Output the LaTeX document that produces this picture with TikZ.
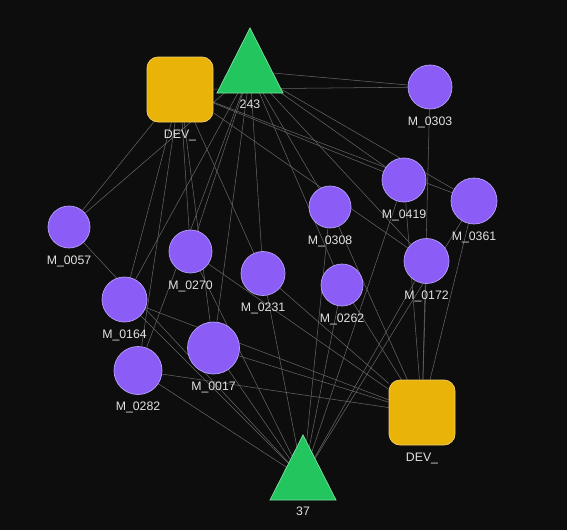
\documentclass[tikz,border=0pt]{standalone}
\usepackage{fontspec}
\setmainfont{Liberation Sans}
\usetikzlibrary{positioning,backgrounds}

\definecolor{bgdark}{HTML}{0D0D0D}
\definecolor{mpurple}{HTML}{8B5CF6}
\definecolor{mborder}{HTML}{B7A2F9}
\definecolor{devgold}{HTML}{EAB308}
\definecolor{devborder}{HTML}{F2CF6A}
\definecolor{tgreen}{HTML}{22C55E}
\definecolor{tborder}{HTML}{7FE0A2}
\definecolor{edgegray}{HTML}{666666}
\definecolor{lblgray}{HTML}{E2E2E2}

\tikzset{
  mnode/.style={circle,fill=mpurple,draw=mborder,line width=0.6pt,inner sep=0pt,minimum size=#1*0.03cm},
  mnode/.default=44,
  devbox/.style={rectangle,rounded corners=0.33cm,fill=devgold,draw=devborder,line width=0.6pt,
    minimum width=1.98cm,minimum height=1.95cm,inner sep=0pt},
  trifill/.style={fill=tgreen,draw=tborder,line width=0.6pt},
  lbl/.style={text=lblgray,font=\fontsize{10.5}{12}\selectfont,inner sep=0pt},
  edge/.style={draw=edgegray,line width=0.45pt}
}

% triangle marker: name, apex x, apex y, label
\newcommand{\trinode}[4]{%
  \filldraw[trifill] (#2,#3) -- ++(33,65) -- ++(-66,0) -- cycle;
  \coordinate (#1) at (#2,#3+43);
  \node[lbl] (#1-l) at (#2,#3+76) {#4};}

\begin{document}
\begin{tikzpicture}[x=0.03cm,y=-0.03cm]
\useasboundingbox (0,0) rectangle (567,530);

% device boxes
\node[devbox] (dev1) at (180,89.5) {};
\node[lbl,below=6pt of dev1] (dev1-l) {DEV\_};
\node[devbox] (dev2) at (422,412.5) {};
\node[lbl,below=6pt of dev2] (dev2-l) {DEV\_};

% triangles
\trinode{t243}{250}{28}{243}
\trinode{t37}{303}{435}{37}

% M nodes
\node[mnode] (m0303) at (430,87) {};
\node[mnode] (m0419) at (404,180) {};
\node[mnode=46] (m0361) at (474,201) {};
\node[mnode=42] (m0308) at (330,207) {};
\node[mnode=42] (m0057) at (69,227) {};
\node[mnode=43] (m0270) at (190.5,251.5) {};
\node[mnode] (m0231) at (263,273.5) {};
\node[mnode=42] (m0262) at (342,285) {};
\node[mnode=45] (m0172) at (426.5,261) {};
\node[mnode=45] (m0164) at (124.5,299.5) {};
\node[mnode=52] (m0017) at (213.5,348) {};
\node[mnode=48] (m0282) at (138,370.5) {};

\foreach \n/\t in {m0303/M\_0303,m0419/M\_0419,m0361/M\_0361,m0308/M\_0308,
  m0057/M\_0057,m0270/M\_0270,m0231/M\_0231,m0262/M\_0262,m0172/M\_0172,
  m0164/M\_0164,m0017/M\_0017,m0282/M\_0282}
  \node[lbl,below=6pt of \n] (\n-l) {\t};

% connectors
\begin{scope}[on background layer]
\fill[bgdark] (0,0) rectangle (567,530);
\foreach \a/\b in {t243/m0303,t243/m0419,t243/m0361,t243/m0308,t243/m0172,t243/m0231,
  t243/m0270,t243/m0164,t243/m0017,t243/m0282,t243/m0262,t243/m0057,
  dev1/m0303,dev1/m0057,dev1/m0419,dev1/m0361,dev1/m0270,dev1/m0164,dev1/m0282,
  dev1/m0017,dev1/m0231,dev1/m0172,
  dev2/m0303,dev2/m0172,dev2/m0361,dev2/m0419,dev2/m0308,dev2/m0262,dev2/m0231,
  dev2/m0270,dev2/m0017,dev2/m0164,dev2/m0282,
  t37/m0057,t37/m0164,t37/m0282,t37/m0017,t37/m0270,t37/m0231,t37/m0262,
  t37/m0308,t37/m0172,t37/m0419,t37/m0361}
  \draw[edge] (\a) -- (\b);
\end{scope}
\end{tikzpicture}
\end{document}
